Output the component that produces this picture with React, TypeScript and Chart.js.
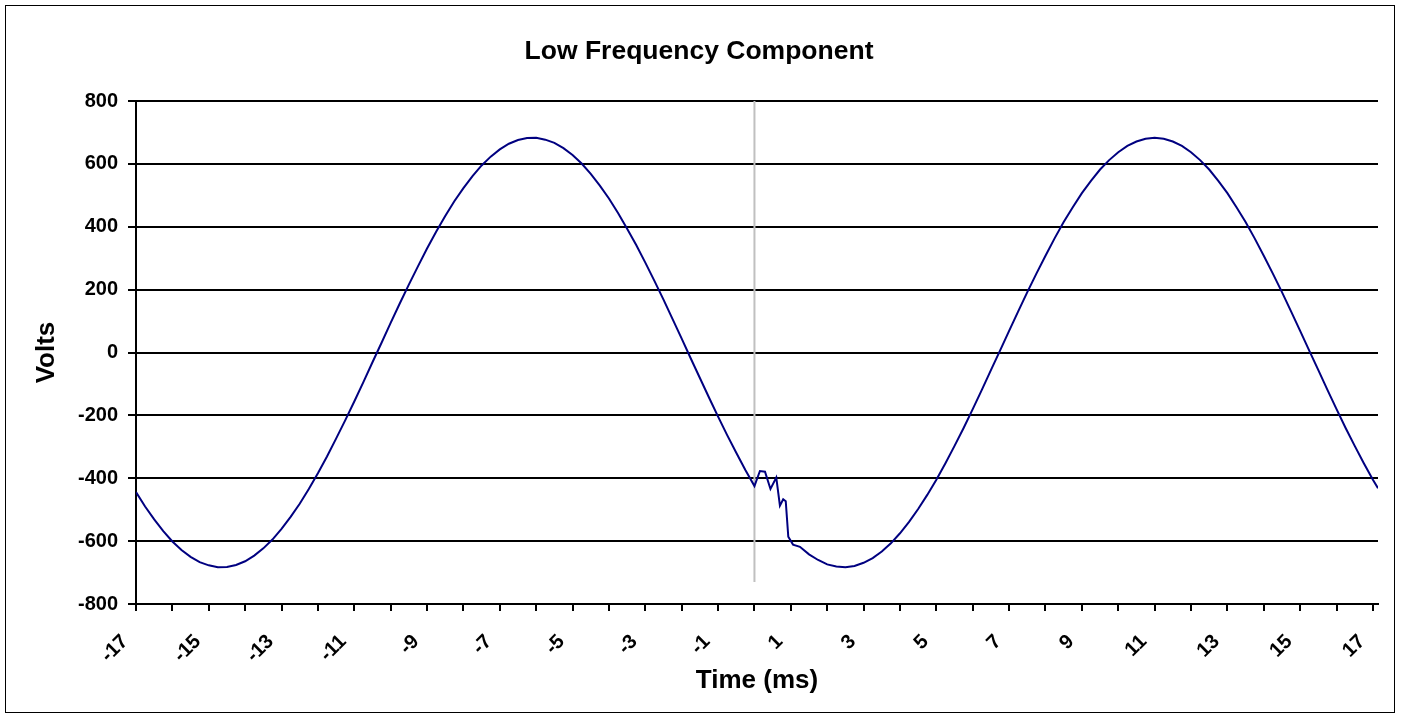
import React, { useEffect, useRef } from "react";
import { Chart, registerables } from "chart.js";

Chart.register(...registerables);

// Sample times (ms)
const timeMs = [
  -17, -16.75, -16.5, -16.25, -16, -15.75, -15.5, -15.25, -15, -14.75,
  -14.5, -14.25, -14, -13.75, -13.5, -13.25, -13, -12.75, -12.5, -12.25,
  -12, -11.75, -11.5, -11.25, -11, -10.75, -10.5, -10.25, -10, -9.75,
  -9.5, -9.25, -9, -8.75, -8.5, -8.25, -8, -7.75, -7.5, -7.25,
  -7, -6.75, -6.5, -6.25, -6, -5.75, -5.5, -5.25, -5, -4.75,
  -4.5, -4.25, -4, -3.75, -3.5, -3.25, -3, -2.75, -2.5, -2.25,
  -2, -1.75, -1.5, -1.25, -1, -0.75, -0.5, -0.25, 0,
  0.15, 0.29, 0.44, 0.6, 0.7, 0.79, 0.86, 0.93, 1.06,
  1.25, 1.5, 1.75, 2, 2.25, 2.5, 2.75, 3, 3.25, 3.5,
  3.75, 4, 4.25, 4.5, 4.75, 5, 5.25, 5.5, 5.75, 6,
  6.25, 6.5, 6.75, 7, 7.25, 7.5, 7.75, 8, 8.25, 8.5,
  8.75, 9, 9.25, 9.5, 9.75, 10, 10.25, 10.5, 10.75, 11,
  11.25, 11.5, 11.75, 12, 12.25, 12.5, 12.75, 13, 13.25, 13.5,
  13.75, 14, 14.25, 14.5, 14.75, 15, 15.25, 15.5, 15.75, 16,
  16.25, 16.5, 16.75, 17, 17.14,
];

// Voltage readings (V)
const volts = [
  -444, -490, -531, -568, -601, -628, -650, -667, -677, -683,
  -682, -676, -664, -646, -623, -595, -561, -523, -481, -434,
  -384, -331, -274, -216, -156, -94, -31, 31, 94, 156,
  216, 274, 331, 384, 434, 481, 523, 561, 595, 623,
  646, 664, 676, 682, 683, 677, 667, 650, 628, 601,
  568, 531, 490, 444, 394, 342, 286, 228, 168, 106,
  44, -19, -81, -143, -204, -263, -319, -374, -425,
  -377, -379, -434, -398, -487, -467, -473, -586, -611,
  -618, -642, -660, -674, -681, -683, -679, -669, -654, -633,
  -607, -575, -539, -498, -453, -405, -352, -297, -240, -180,
  -119, -56, 6, 69, 131, 192, 251, 308, 363, 415,
  462, 507, 546, 582, 612, 637, 657, 671, 680, 683,
  680, 671, 657, 637, 612, 582, 546, 507, 462, 415,
  363, 308, 251, 192, 131, 69, 6, -56, -119, -180,
  -240, -297, -352, -405, -432,
];

// Vertical marker at t = 0
const markerTime = [0, 0];
const markerVolts = [800, -730];

const chartTitle = "Low Frequency Component";
const xTitle = "Time (ms)";
const yTitle = "Volts";

const FONT = 'Arial, "Liberation Sans", sans-serif';

export default function App() {
  const ref = useRef<HTMLCanvasElement>(null);

  useEffect(() => {
    if (!ref.current) return;
    const decor = {
      id: "decor",
      beforeDraw(chart: any) {
        const ctx = chart.ctx;
        ctx.save();
        ctx.fillStyle = "#fff";
        ctx.fillRect(0, 0, chart.width, chart.height);
        ctx.strokeStyle = "#000";
        ctx.lineWidth = 1;
        ctx.strokeRect(5.5, 5.5, 1389, 707);
        ctx.restore();
      },
      afterDraw(chart: any) {
        const ctx = chart.ctx;
        const area = chart.chartArea;
        ctx.save();
        ctx.fillStyle = "#000";
        ctx.textAlign = "center";
        ctx.textBaseline = "middle";
        ctx.font = `bold 26.5px ${FONT}`;
        ctx.fillText(chartTitle, 699, 52);
        ctx.font = `bold 26px ${FONT}`;
        ctx.fillText(xTitle, (area.left + area.right) / 2, 681);
        ctx.translate(47, (area.top + area.bottom) / 2);
        ctx.rotate(-Math.PI / 2);
        ctx.fillText(yTitle, 0, 0);
        ctx.restore();
      },
    };

    const chart = new Chart(ref.current, {
      type: "line",
      data: {
        datasets: [
          {
            data: timeMs.map((t, i) => ({ x: t, y: volts[i] })),
            borderColor: "#000080",
            borderWidth: 2,
            pointRadius: 0,
            tension: 0,
          },
          {
            data: markerTime.map((t, i) => ({ x: t, y: markerVolts[i] })),
            borderColor: "#C0C0C0",
            borderWidth: 2,
            pointRadius: 0,
          },
        ],
      },
      options: {
        responsive: false,
        animation: false,
        events: [],
        layout: { padding: { left: 0, right: 23, top: 101, bottom: 0 } },
        plugins: {
          legend: { display: false },
          title: { display: false },
          tooltip: { enabled: false },
        },
        scales: {
          x: {
            type: "linear",
            min: -17,
            max: 17.14,
            afterFit(s: any) {
              s.height = 111;
              s.paddingLeft = 0;
              s.paddingRight = 0;
            },
            ticks: {
              stepSize: 1,
              includeBounds: false,
              autoSkip: false,
              minRotation: 45,
              maxRotation: 45,
              padding: 19,
              labelOffset: -11,
              color: "#000",
              font: { family: FONT, size: 20, weight: "bold" },
              callback: (v: any) => (Math.abs(Math.round(v)) % 2 === 1 ? String(Math.round(v)) : ""),
            },
            grid: {
              drawOnChartArea: false,
              drawTicks: true,
              tickLength: 7,
              color: "#000",
              lineWidth: 2,
            },
            border: { color: "#000", width: 2 },
          },
          y: {
            type: "linear",
            min: -800,
            max: 800,
            afterFit(s: any) {
              s.width = 136;
            },
            ticks: {
              stepSize: 200,
              padding: 10,
              color: "#000",
              font: { family: FONT, size: 20, weight: "bold" },
            },
            grid: { color: "#000", lineWidth: 2, tickLength: 8 },
            border: { color: "#000", width: 2 },
          },
        },
      },
      plugins: [decor],
    } as any);
    return () => chart.destroy();
  }, []);

  return (
    <div style={{ position: "fixed", left: 0, top: 0, width: 1401, height: 715 }}>
      <canvas ref={ref} width={1401} height={715} style={{ display: "block" }} />
    </div>
  );
}
